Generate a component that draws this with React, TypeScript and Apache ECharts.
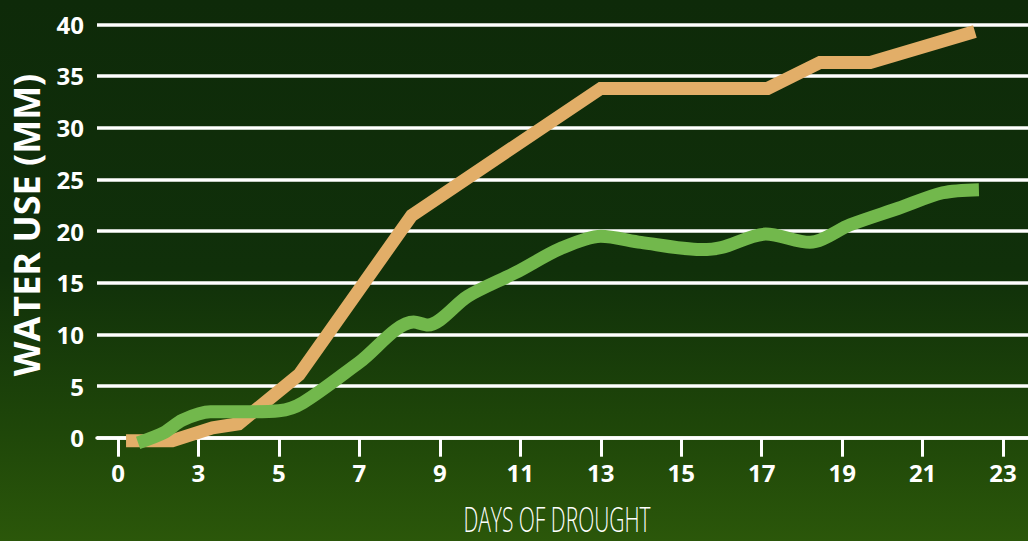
import React, { useEffect, useRef } from "react";
import * as echarts from "echarts";

const tickDays = [1, 3, 5, 7, 9, 11, 13, 15, 17, 19, 21, 23];
const tickLabels = ["0", "3", "5", "7", "9", "11", "13", "15", "17", "19", "21", "23"];

const orangeDays = [1.2, 2.35, 3.35, 4.0, 5.5, 8.3, 13.0, 17.15, 18.45, 19.7, 22.3];
const orangeUse = [-0.3, -0.3, 0.95, 1.35, 6.1, 21.5, 33.8, 33.8, 36.3, 36.3, 39.3];

const greenDays = [1.5, 2.15, 2.6, 3.3, 4.2, 5.0, 5.6, 7.0, 8.35, 8.7, 9.7, 10.9, 12.0, 13.0, 14.0, 15.5, 16.0, 17.1, 18.2, 19.2, 20.4, 21.5, 22.4];
const greenUse = [-0.5, 0.5, 1.7, 2.5, 2.5, 2.6, 3.4, 7.3, 11.2, 10.9, 13.7, 16.0, 18.3, 19.5, 18.9, 18.2, 18.4, 19.7, 18.9, 20.6, 22.2, 23.7, 24.0];

const yTicks = [0, 5, 10, 15, 20, 25, 30, 35, 40];

export default function App() {
  const ref = useRef<HTMLDivElement>(null);
  useEffect(() => {
    if (!ref.current) return;
    const chart = echarts.init(ref.current, null, { renderer: "svg" });
    const pair = (xs: number[], ys: number[]) => xs.map((x, i) => [x, ys[i]]);
    chart.setOption({
      animation: false,
      backgroundColor: {
        type: "linear",
        x: 0,
        y: 0,
        x2: 0,
        y2: 1,
        colorStops: [
          { offset: 0, color: "#0e2a09" },
          { offset: 0.5, color: "#10300a" },
          { offset: 0.8, color: "#1f4709" },
          { offset: 1, color: "#2b570a" },
        ],
      },
      grid: { left: 97, right: 0, top: 24.3, bottom: 103.3 },
      xAxis: {
        type: "value",
        min: 0.478,
        max: 23.62,
        splitLine: { show: false },
        axisLine: { show: true, lineStyle: { color: "#ffffff", width: 3.5 } },
        axisTick: {
          show: true,
          customValues: tickDays,
          length: 19,
          lineStyle: { color: "#ffffff", width: 3 },
        },
        axisLabel: {
          customValues: tickDays,
          formatter: (v: number) => {
            const i = tickDays.indexOf(v);
            return i >= 0 ? tickLabels[i] : "";
          },
          color: "#ffffff",
          fontSize: 24,
          fontWeight: "bold",
          fontFamily: "Open Sans",
          margin: 23,
        },
      },
      yAxis: {
        type: "value",
        min: 0,
        max: 40,
        interval: 5,
        name: "WATER USE (MM)",
        nameLocation: "middle",
        nameRotate: 90,
        nameGap: 53,
        nameTextStyle: {
          color: "#ffffff",
          fontSize: 36,
          fontWeight: "bold",
          fontFamily: "Open Sans",
          padding: [0, 0, 0, 12],
        },
        axisLine: { show: false },
        axisTick: { show: false },
        axisLabel: {
          customValues: yTicks,
          color: "#ffffff",
          fontSize: 24,
          fontWeight: "bold",
          fontFamily: "Open Sans",
          margin: 13,
        },
        splitLine: { show: true, lineStyle: { color: "#ffffff", width: 3.5 } },
      },
      graphic: [
        {
          type: "text",
          x: 557,
          y: 518,
          scaleX: 0.6,
          style: {
            text: "DAYS OF DROUGHT",
            font: '300 35px "Open Sans"',
            fill: "#ffffff",
            align: "center",
            verticalAlign: "middle",
          },
        },
      ],
      series: [
        {
          type: "line",
          data: pair(orangeDays, orangeUse),
          showSymbol: false,
          clip: false,
          lineStyle: { color: "#e2ae68", width: 13, cap: "butt", join: "miter" },
          z: 3,
        },
        {
          type: "line",
          data: pair(greenDays, greenUse),
          showSymbol: false,
          clip: false,
          smooth: 0.3,
          lineStyle: { color: "#72b84c", width: 13, cap: "butt", join: "round" },
          z: 4,
        },
      ],
    });
    return () => chart.dispose();
  }, []);
  return <div ref={ref} style={{ position: "absolute", left: 0, top: 0, width: 1028, height: 541 }} />;
}
